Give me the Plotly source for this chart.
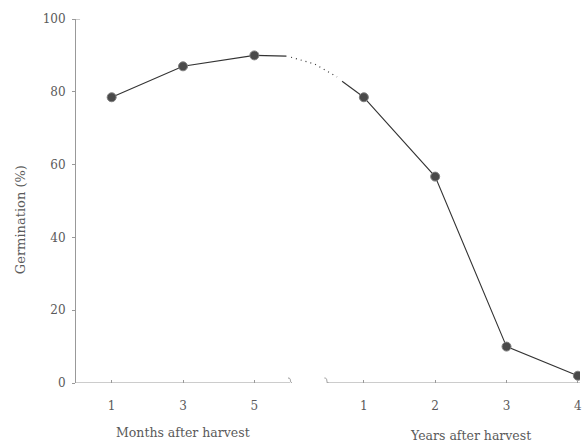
import plotly.graph_objects as go

# Germination measured months after harvest, then years after harvest
months = [1, 3, 5]
month_germination = [78.5, 87, 90]
years = [1, 2, 3, 4]
year_germination = [78.5, 56.7, 10, 2]

# Hand-drawn bridge across the axis break (axis units, germination %)
bridge_solid_left_x = [5, 5.9]
bridge_solid_left_y = [90, 89.8]
bridge_dotted_x = [6.03, 6.7, 7.32]
bridge_dotted_y = [89.5, 87.6, 84.1]
bridge_solid_right_x = [7.46, 8.07]
bridge_solid_right_y = [82.9, 78.5]

y_ticks = [0, 20, 40, 60, 80, 100]

# Shared horizontal scale: one month = 1 unit, one year = 2 units after the break
YEAR_OFFSET = 6.07
YEAR_SCALE = 2.0
def year_pos(y):
    return YEAR_OFFSET + YEAR_SCALE * y

year_x = [year_pos(y) for y in years]

FONT = "DejaVu Serif"
TXT = "#5a5a5a"
INK = "#333333"

fig = go.Figure()

line_style = dict(color=INK, width=1.1)
fig.add_trace(go.Scatter(x=bridge_solid_left_x, y=bridge_solid_left_y, mode="lines",
                         line=line_style, hoverinfo="skip"))
fig.add_trace(go.Scatter(x=bridge_dotted_x, y=bridge_dotted_y, mode="lines",
                         line=dict(color=INK, width=1.2, dash="1px,4px"), hoverinfo="skip"))
fig.add_trace(go.Scatter(x=bridge_solid_right_x, y=bridge_solid_right_y, mode="lines",
                         line=line_style, hoverinfo="skip"))

marker_style = dict(size=9, color="#4a4a4a", line=dict(color="#808080", width=1))
fig.add_trace(go.Scatter(x=months, y=month_germination, mode="lines+markers",
                         line=line_style, marker=marker_style))
fig.add_trace(go.Scatter(x=year_x, y=year_germination, mode="lines+markers",
                         line=line_style, marker=marker_style))

X_MAX = 14.13
AXIS_COLOR = "#999999"

shapes = [
    # broken horizontal axis: months segment and years segment
    dict(type="line", xref="x", yref="y", x0=0, x1=6.0, y0=0, y1=0,
         line=dict(color=AXIS_COLOR, width=1)),
    dict(type="line", xref="x", yref="y", x0=7.02, x1=X_MAX, y0=0, y1=0,
         line=dict(color=AXIS_COLOR, width=1)),
    # top tick of the y axis
    dict(type="line", xref="paper", yref="y", x0=0, x1=0.008, y0=100, y1=100,
         line=dict(color=AXIS_COLOR, width=1)),
]
# break marks at the segment ends
for xa in (6.0, 7.02):
    shapes.append(dict(type="path", xref="x", yref="y", xsizemode="pixel", ysizemode="pixel",
                       xanchor=xa, yanchor=0,
                       path="M -2,5 C 2,5 -1,1 2,0 C -1,-1 2,-5 -2,-6",
                       line=dict(color=AXIS_COLOR, width=1)))

annotations = [
    dict(text="Germination (%)", xref="paper", yref="paper", x=-0.13, y=0.45,
         textangle=-90, showarrow=False, font=dict(family=FONT, size=13, color=TXT)),
    dict(text="Months after harvest", xref="x", yref="paper", x=3, y=-0.137,
         yanchor="middle", showarrow=False, font=dict(family=FONT, size=12.5, color=TXT)),
    dict(text="Years after harvest", xref="x", yref="paper", x=year_pos(2.5), y=-0.144,
         yanchor="middle", showarrow=False, font=dict(family=FONT, size=12.5, color=TXT)),
]

tick_pos = months + year_x
tick_text = [str(m) for m in months] + [str(y) for y in years]

fig.update_layout(
    width=585, height=445,
    margin=dict(l=76, r=3, t=19, b=62),
    paper_bgcolor="white", plot_bgcolor="white",
    showlegend=False,
    font=dict(family=FONT, color=TXT, size=12),
    shapes=shapes,
    annotations=annotations,
    xaxis=dict(range=[0, X_MAX], showgrid=False, zeroline=False, showline=False,
               tickmode="array", tickvals=tick_pos, ticktext=tick_text,
               ticks="inside", ticklen=3, tickcolor=AXIS_COLOR, tickwidth=1,
               ticklabelstandoff=14, tickfont=dict(family=FONT, size=12, color=TXT)),
    yaxis=dict(range=[0, 100], showgrid=False, zeroline=False, showline=True,
               linecolor=AXIS_COLOR, linewidth=1,
               tickmode="array", tickvals=y_ticks,
               ticks="outside", ticklen=3, tickcolor=AXIS_COLOR, tickwidth=1,
               ticklabelstandoff=4, tickfont=dict(family=FONT, size=12, color=TXT)),
)

fig.write_html("out.html")
